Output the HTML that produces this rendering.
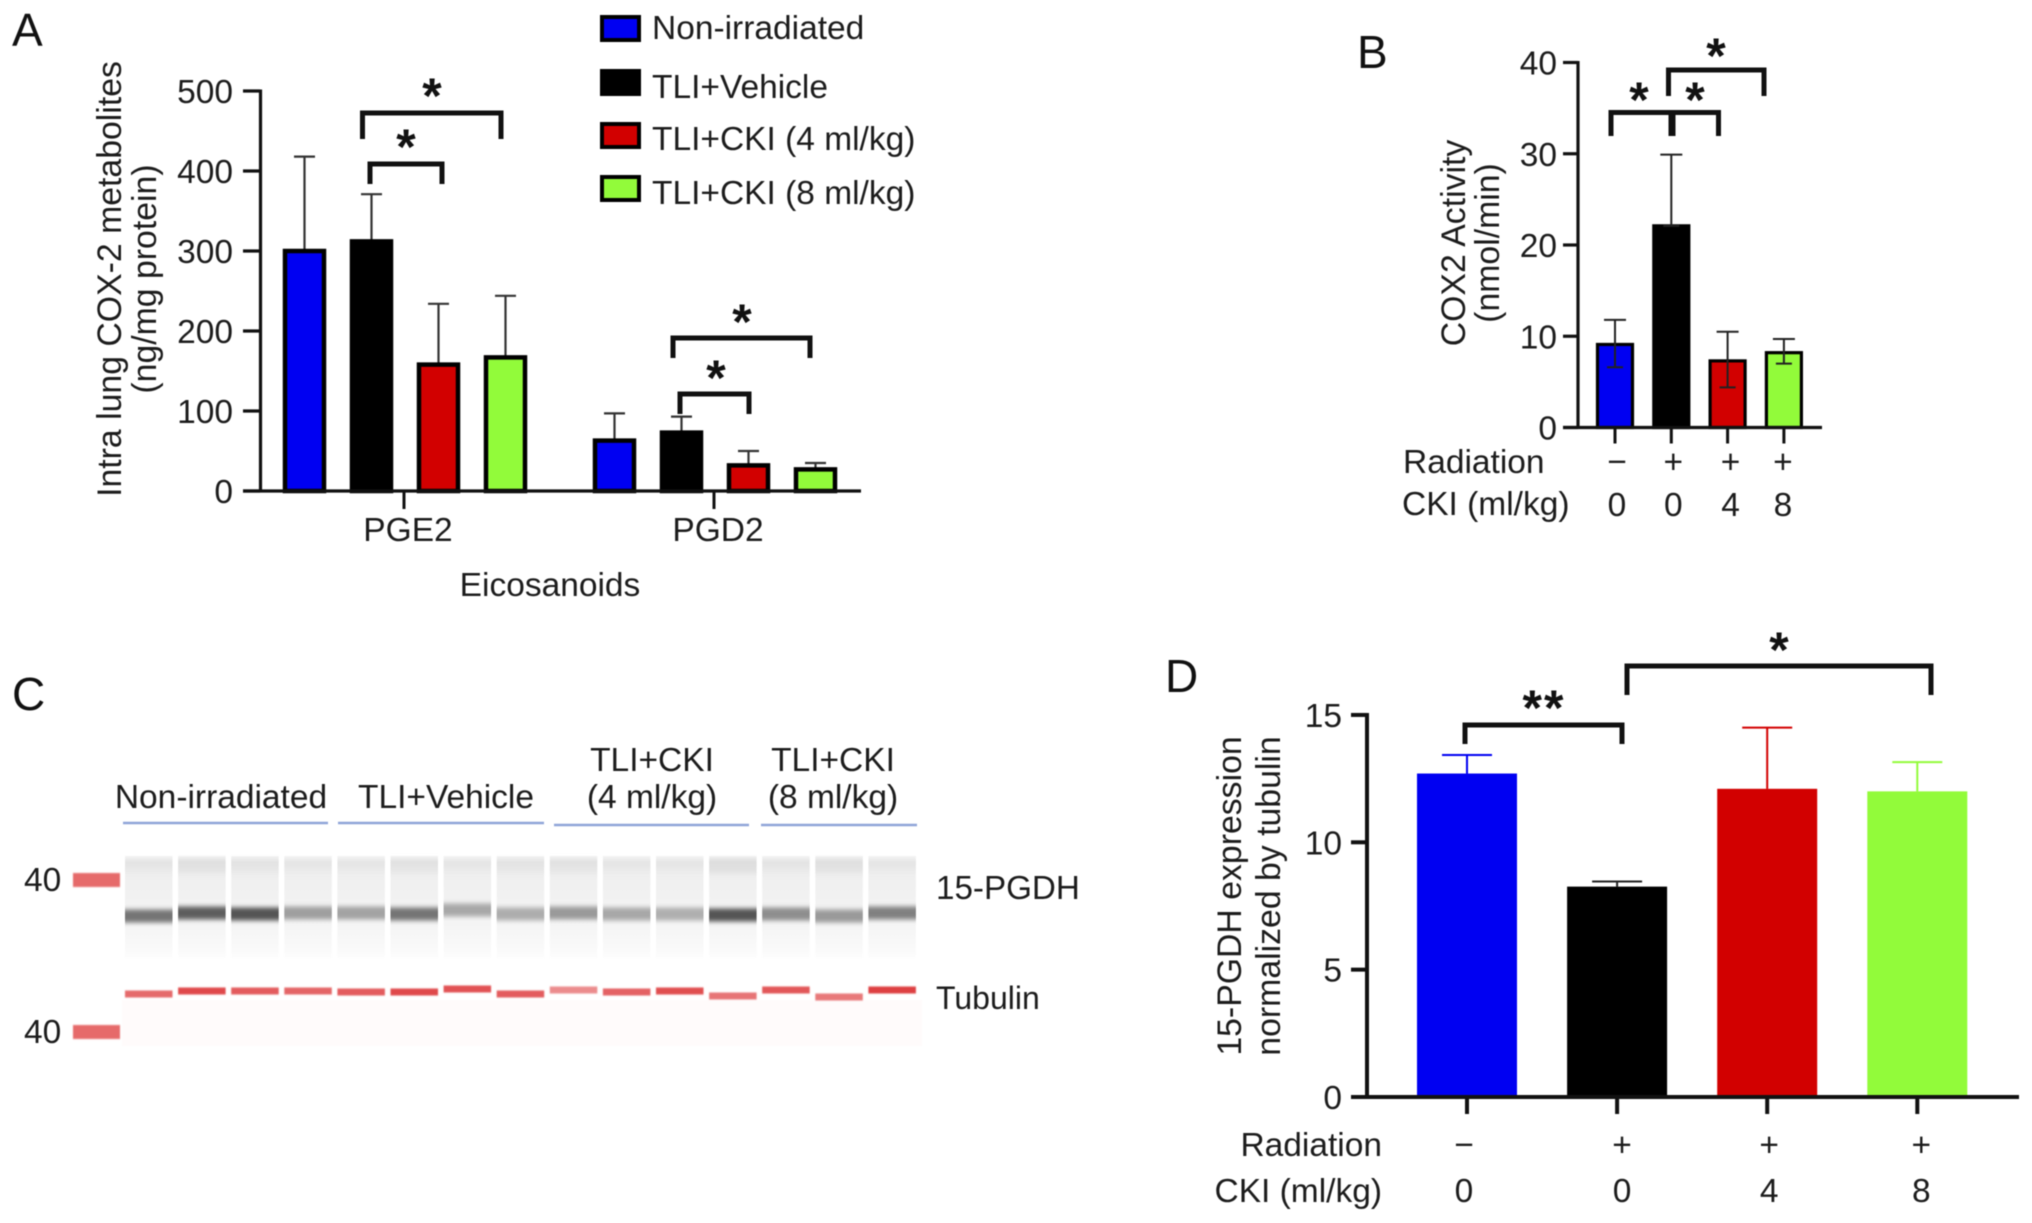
<!DOCTYPE html>
<html lang="en">
<head>
<meta charset="utf-8">
<title>COX-2 metabolites, COX2 activity and 15-PGDH expression</title>
<style>
  html, body { margin: 0; padding: 0; background: #fff; }
  body { width: 2032px; height: 1223px; overflow: hidden; }
  svg { display: block; filter: blur(0.6px); }
  text { font-family: "Liberation Sans", sans-serif; fill: #1c1c1c; font-size: 33.5px; }
  .panel { font-size: 46px; fill: #111; }
  .star { font-size: 50px; font-weight: bold; text-anchor: middle; fill: #111; }
  .br { fill: none; stroke: #111; stroke-width: 5; stroke-linecap: butt; stroke-linejoin: miter; }
  .mid { text-anchor: middle; }
  .end { text-anchor: end; }
  .ytitle { font-size: 33.8px; }
</style>
</head>
<body>
<svg id="fig" xmlns="http://www.w3.org/2000/svg" width="2032" height="1223" viewBox="0 0 2032 1223">
  <defs>
    <linearGradient id="laneGrad" x1="0" y1="0" x2="0" y2="1">
      <stop offset="0" stop-color="#eaeaea" stop-opacity="0.5"/>
      <stop offset="0.06" stop-color="#e6e6e6"/>
      <stop offset="0.18" stop-color="#efefef"/>
      <stop offset="0.45" stop-color="#f2f2f2"/>
      <stop offset="0.7" stop-color="#f5f5f5"/>
      <stop offset="0.92" stop-color="#fafafa"/>
      <stop offset="1" stop-color="#fdfdfd"/>
    </linearGradient>
    <filter id="bandBlur" x="-5%" y="-60%" width="110%" height="220%"><feGaussianBlur stdDeviation="0.3 2.4"/></filter>
    <filter id="redBlur" x="-5%" y="-60%" width="110%" height="220%"><feGaussianBlur stdDeviation="0.4 0.9"/></filter>
  </defs>

  <text class="panel" x="12" y="46">A</text>
  <text class="panel" x="1357" y="68">B</text>
  <text class="panel" x="12" y="710">C</text>
  <text class="panel" x="1165" y="692">D</text>

  <!-- Panel A static labels -->
  <g>
    <text class="mid ytitle" transform="translate(121 279) rotate(-90)">Intra lung COX-2 metabolites</text>
    <text class="mid ytitle" transform="translate(156 279) rotate(-90)">(ng/mg protein)</text>
    <text class="mid" x="550" y="596">Eicosanoids</text>
  </g>
  <g id="panelA"></g>
  <g id="legendA"></g>
  <g>
    <path class="br" d="M362.5 139V113H501V139"/>
    <path class="br" d="M370 184V164H442V184"/>
    <path class="br" d="M673 358V338H810V358"/>
    <path class="br" d="M680 414V394H749V414"/>
    <text class="star" x="432" y="113">*</text>
    <text class="star" x="406" y="164">*</text>
    <text class="star" x="742" y="339">*</text>
    <text class="star" x="716" y="395">*</text>
  </g>

  <!-- Panel B static labels -->
  <g>
    <text class="mid ytitle" transform="translate(1465 243) rotate(-90)">COX2 Activity</text>
    <text class="mid ytitle" transform="translate(1499 243) rotate(-90)">(nmol/min)</text>
    <text x="1403" y="473">Radiation</text>
    <text x="1402" y="515">CKI (ml/kg)</text>
  </g>
  <g id="panelB"></g>
  <g>
    <path class="br" d="M1611 136V112.5H1671V136"/>
    <path class="br" d="M1673 136V112.5H1718.5V136"/>
    <path class="br" d="M1668.5 96V70H1764V96"/>
    <text class="star" x="1639" y="117">*</text>
    <text class="star" x="1695" y="117">*</text>
    <text class="star" x="1716" y="73">*</text>
  </g>

  <!-- Panel C static labels -->
  <g>
    <text class="mid" x="221" y="808">Non-irradiated</text>
    <text class="mid" x="446" y="808">TLI+Vehicle</text>
    <text class="mid" x="652" y="771">TLI+CKI</text>
    <text class="mid" x="652" y="808">(4 ml/kg)</text>
    <text class="mid" x="833" y="771">TLI+CKI</text>
    <text class="mid" x="833" y="808">(8 ml/kg)</text>
    <line x1="123" x2="328" y1="823" y2="823" stroke="#8fa5d8" stroke-width="2.5"/>
    <line x1="338" x2="544" y1="823" y2="823" stroke="#8fa5d8" stroke-width="2.5"/>
    <line x1="554" x2="749" y1="825" y2="825" stroke="#8fa5d8" stroke-width="2.5"/>
    <line x1="761" x2="917" y1="825" y2="825" stroke="#8fa5d8" stroke-width="2.5"/>
    <text x="24" y="891">40</text>
    <text x="24" y="1043">40</text>
    <text x="936" y="899" style="font-size:33.2px">15-PGDH</text>
    <text x="936" y="1009" style="font-size:32px">Tubulin</text>
  </g>
  <g id="panelC"></g>
  <rect x="73" y="873" width="47" height="14" fill="#e66a6a" filter="url(#redBlur)"/>
  <rect x="73" y="1025" width="47" height="14" fill="#e66a6a" filter="url(#redBlur)"/>

  <!-- Panel D static labels -->
  <g>
    <text class="mid ytitle" transform="translate(1241 896) rotate(-90)">15-PGDH expression</text>
    <text class="mid ytitle" transform="translate(1280 896) rotate(-90)">normalized by tubulin</text>
    <text class="end" x="1382" y="1156">Radiation</text>
    <text class="end" x="1382" y="1202">CKI (ml/kg)</text>
  </g>
  <g id="panelD"></g>
  <g>
    <path class="br" d="M1465 744V725H1622V744"/>
    <path class="br" d="M1627 695V666H1931V695"/>
    <text class="star" style="letter-spacing:2px" x="1544" y="725">**</text>
    <text class="star" x="1779" y="667">*</text>
  </g>
</svg>

<script>
// ---------- Shared series ----------
const seriesNames = ['Non-irradiated', 'TLI+Vehicle', 'TLI+CKI (4 ml/kg)', 'TLI+CKI (8 ml/kg)'];
const seriesColors = ['#0000f2', '#000000', '#d20000', '#92fb3a'];

// ---------- Panel A ----------
const aGroups = ['PGE2', 'PGD2'];
const aTicks = [0, 100, 200, 300, 400, 500];
const aMeansPGE2 = [300, 312, 158, 167];
const aUpperPGE2 = [418, 371, 234, 244];
const aMeansPGD2 = [63, 73, 32, 27];
const aUpperPGD2 = [97, 93, 50, 35];

// ---------- Panel B ----------
const bTicks = [0, 10, 20, 30, 40];
const bMeans = [9.1, 22.1, 7.3, 8.2];
const bUpper = [11.8, 29.9, 10.5, 9.7];
const bLower = [6.6, 22.1, 4.4, 7.0];
const bRadiation = ['\u2212', '+', '+', '+'];
const bCki = ['0', '0', '4', '8'];

// ---------- Panel C ----------
const cBandDarkness = [0.52, 0.62, 0.66, 0.34, 0.32, 0.52, 0.30, 0.28, 0.36, 0.30, 0.27, 0.66, 0.41, 0.36, 0.47];
const cBandMobility = [3, 0, 1, 0, 0, 1, -3, 1, 0, 1, 1, 2, 1, 3, 0];
const cLaneHaze = [0.2, 0.6, 0.3, 0.1, 0.1, 0.4, 0.1, 0.3, 0.4, 0.1, 0.1, 0.8, 0.2, 0.6, 0.1];
const cTubulinStrength = [0.78, 0.95, 0.85, 0.8, 0.85, 0.95, 0.9, 0.85, 0.6, 0.82, 0.92, 0.72, 0.88, 0.7, 1.0];
const cTubulinMobility = [3, 0, 0, 0, 1, 1, -2, 3, -1, 1, 0, 5, -1, 6, -1];

// ---------- Panel D ----------
const dTicks = [0, 5, 10, 15];
const dMeans = [12.7, 8.26, 12.1, 12.0];
const dUpper = [13.43, 8.46, 14.5, 13.15];
const dRadiation = ['\u2212', '+', '+', '+'];
const dCki = ['0', '0', '4', '8'];

const NS = 'http://www.w3.org/2000/svg';
function mk(parent, tag, attrs, txt) {
  const el = document.createElementNS(NS, tag);
  for (const k in attrs) el.setAttribute(k, attrs[k]);
  if (txt !== undefined) el.textContent = txt;
  parent.appendChild(el);
  return el;
}

// Axis functions
const yA = v => 491 - v * 0.8;
const xA = (g, s) => 304.5 + 310 * g + 67 * s;
const xATick = g => 404 + 310 * g;
const yB = v => 427.5 - v * 9.125;
const xB = i => 1615 + 56.3 * i;
const yD = v => 1097 - v * 25.47;
const xD = i => 1467 + 150.1 * i;
const xLane = i => 125 + 53.1 * i;
const yBand = m => 913 + m;
const yTub = m => 991 + m;

// ---------- Draw panel A ----------
(function () {
  const g = document.getElementById('panelA');
  const means = [aMeansPGE2, aMeansPGD2];
  const uppers = [aUpperPGE2, aUpperPGD2];
  aGroups.forEach((name, gi) => {
    means[gi].forEach((m, si) => {
      const cx = xA(gi, si);
      const stem = mk(g, 'path', {
        d: 'M' + cx + ' ' + yA(m) + 'V' + yA(uppers[gi][si]) + 'M' + (cx - 10.5) + ' ' + yA(uppers[gi][si]) + 'H' + (cx + 10.5),
        fill: 'none', stroke: '#333', 'stroke-width': 2.2
      });
      
      
      const bar = mk(g, 'rect', {
        x: cx - 19.5, y: yA(m), width: 39, height: yA(0) - yA(m),
        fill: seriesColors[si], stroke: '#000', 'stroke-width': 4.5
      });
      
      
    });
    const tick = mk(g, 'line', { x1: xATick(gi), x2: xATick(gi), y1: yA(0), y2: yA(0) + 18, stroke: '#111', 'stroke-width': 3 });
    
    
    const lab = mk(g, 'text', { x: xATick(gi) + 4, y: 541, 'text-anchor': 'middle' }, name);
    
    
  });
  const yAxis = mk(g, 'line', { x1: 260.5, x2: 260.5, y1: yA(500) - 1.5, y2: yA(0) + 1.5, stroke: '#111', 'stroke-width': 3.2 });
  
  
  const xAxis = mk(g, 'line', { x1: 243, x2: 861, y1: yA(0), y2: yA(0), stroke: '#111', 'stroke-width': 3.2 });
  
  
  aTicks.forEach(t => {
    const tk = mk(g, 'line', { x1: 243, x2: 260, y1: yA(t), y2: yA(t), stroke: '#111', 'stroke-width': 3.2 });
    
    
    const lb = mk(g, 'text', { x: 233, y: yA(t) + 12, 'text-anchor': 'end' }, String(t));
    
    
  });
  const lg = document.getElementById('legendA');
  seriesNames.forEach((s, i) => {
    const top = [17, 71, 124, 177][i];
    const box = mk(lg, 'rect', { x: 602, y: top, width: 37, height: 23, fill: seriesColors[i], stroke: '#000', 'stroke-width': 4 });
    
    
    const tx = mk(lg, 'text', { x: 652, y: [39, 98, 150, 204][i] }, s);
    
    
  });
})();

// ---------- Draw panel B ----------
(function () {
  const g = document.getElementById('panelB');
  bMeans.forEach((m, i) => {
    const cx = xB(i);
    const bar = mk(g, 'rect', {
      x: cx - 17.5, y: yB(m), width: 35, height: yB(0) - yB(m),
      fill: seriesColors[i], stroke: '#000', 'stroke-width': 3.2
    });
    
    
    const err = mk(g, 'path', {
      d: 'M' + cx + ' ' + yB(bLower[i]) + 'V' + yB(bUpper[i]) +
         'M' + (cx - 11) + ' ' + yB(bUpper[i]) + 'H' + (cx + 11) +
         'M' + (cx - 8) + ' ' + yB(bLower[i]) + 'H' + (cx + 8),
      fill: 'none', stroke: '#222', 'stroke-width': 2
    });
    
    
    const tick = mk(g, 'line', { x1: cx, x2: cx, y1: yB(0), y2: yB(0) + 16, stroke: '#111', 'stroke-width': 3 });
    
    
    const r = mk(g, 'text', { x: cx + [2, 2, 3, -1][i], y: 473, 'text-anchor': 'middle' }, bRadiation[i]);
    
    
    const c = mk(g, 'text', { x: cx + [2, 2, 3, -1][i], y: 516, 'text-anchor': 'middle' }, bCki[i]);
    
    
  });
  const yAxis = mk(g, 'line', { x1: 1578, x2: 1578, y1: yB(40) - 1.5, y2: yB(0) + 1.5, stroke: '#111', 'stroke-width': 3.2 });
  
  
  const xAxis = mk(g, 'line', { x1: 1563, x2: 1822, y1: yB(0), y2: yB(0), stroke: '#111', 'stroke-width': 3.2 });
  
  
  bTicks.forEach(t => {
    const tk = mk(g, 'line', { x1: 1563, x2: 1578, y1: yB(t), y2: yB(t), stroke: '#111', 'stroke-width': 3.2 });
    
    
    const lb = mk(g, 'text', { x: 1557, y: yB(t) + 12, 'text-anchor': 'end' }, String(t));
    
    
  });
})();

// ---------- Draw panel C ----------
(function () {
  const g = document.getElementById('panelC');
  const halo = mk(g, 'rect', { x: 122, y: 1000, width: 800, height: 46, fill: '#fffbfb' });
  
  
  cBandDarkness.forEach((d, i) => {
    const x = xLane(i);
    const lane = mk(g, 'rect', { x: x, y: 856, width: 47.5, height: 102, fill: 'url(#laneGrad)' });
    
    
    const haze = mk(g, 'rect', { x: x, y: 858, width: 47.5, height: 16, fill: '#c8c8c8', opacity: cLaneHaze[i] * 0.35, filter: 'url(#bandBlur)' });
    
    
    const shade = Math.round(238 - 238 * d * 0.98);
    const band = mk(g, 'rect', { x: x, y: yBand(cBandMobility[i]) - 6.5, width: 47.5, height: 13,
      fill: 'rgb(' + shade + ',' + shade + ',' + shade + ')', filter: 'url(#bandBlur)' });
    
    
    const tub = mk(g, 'rect', { x: x, y: yTub(cTubulinMobility[i]) - 3.5, width: 47.5, height: 7,
      fill: '#de3f42', opacity: cTubulinStrength[i], filter: 'url(#redBlur)' });
    
    
  });
})();

// ---------- Draw panel D ----------
(function () {
  const g = document.getElementById('panelD');
  dMeans.forEach((m, i) => {
    const cx = xD(i);
    const col = seriesColors[i];
    const err = mk(g, 'path', {
      d: 'M' + cx + ' ' + yD(m) + 'V' + yD(dUpper[i]) + 'M' + (cx - 25) + ' ' + yD(dUpper[i]) + 'H' + (cx + 25),
      fill: 'none', stroke: i === 1 ? '#222' : col, 'stroke-width': 2
    });
    
    
    const bar = mk(g, 'rect', { x: cx - 50, y: yD(m), width: 100, height: yD(0) - yD(m), fill: col });
    
    
    const tick = mk(g, 'line', { x1: cx, x2: cx, y1: yD(0), y2: yD(0) + 17, stroke: '#111', 'stroke-width': 4 });
    
    
    const r = mk(g, 'text', { x: cx + [-3, 5, 2, 4][i], y: 1156, 'text-anchor': 'middle' }, dRadiation[i]);
    
    
    const c = mk(g, 'text', { x: cx + [-3, 5, 2, 4][i], y: 1202, 'text-anchor': 'middle' }, dCki[i]);
    
    
  });
  const yAxis = mk(g, 'line', { x1: 1367, x2: 1367, y1: yD(15) - 2, y2: yD(0) + 2, stroke: '#111', 'stroke-width': 4 });
  
  
  const xAxis = mk(g, 'line', { x1: 1351, x2: 2019, y1: yD(0), y2: yD(0), stroke: '#111', 'stroke-width': 4 });
  
  
  dTicks.forEach(t => {
    const tk = mk(g, 'line', { x1: 1351, x2: 1367, y1: yD(t), y2: yD(t), stroke: '#111', 'stroke-width': 4 });
    
    
    const lb = mk(g, 'text', { x: 1342, y: yD(t) + 12, 'text-anchor': 'end' }, String(t));
    
    
  });
})();
</script>
</body>
</html>
